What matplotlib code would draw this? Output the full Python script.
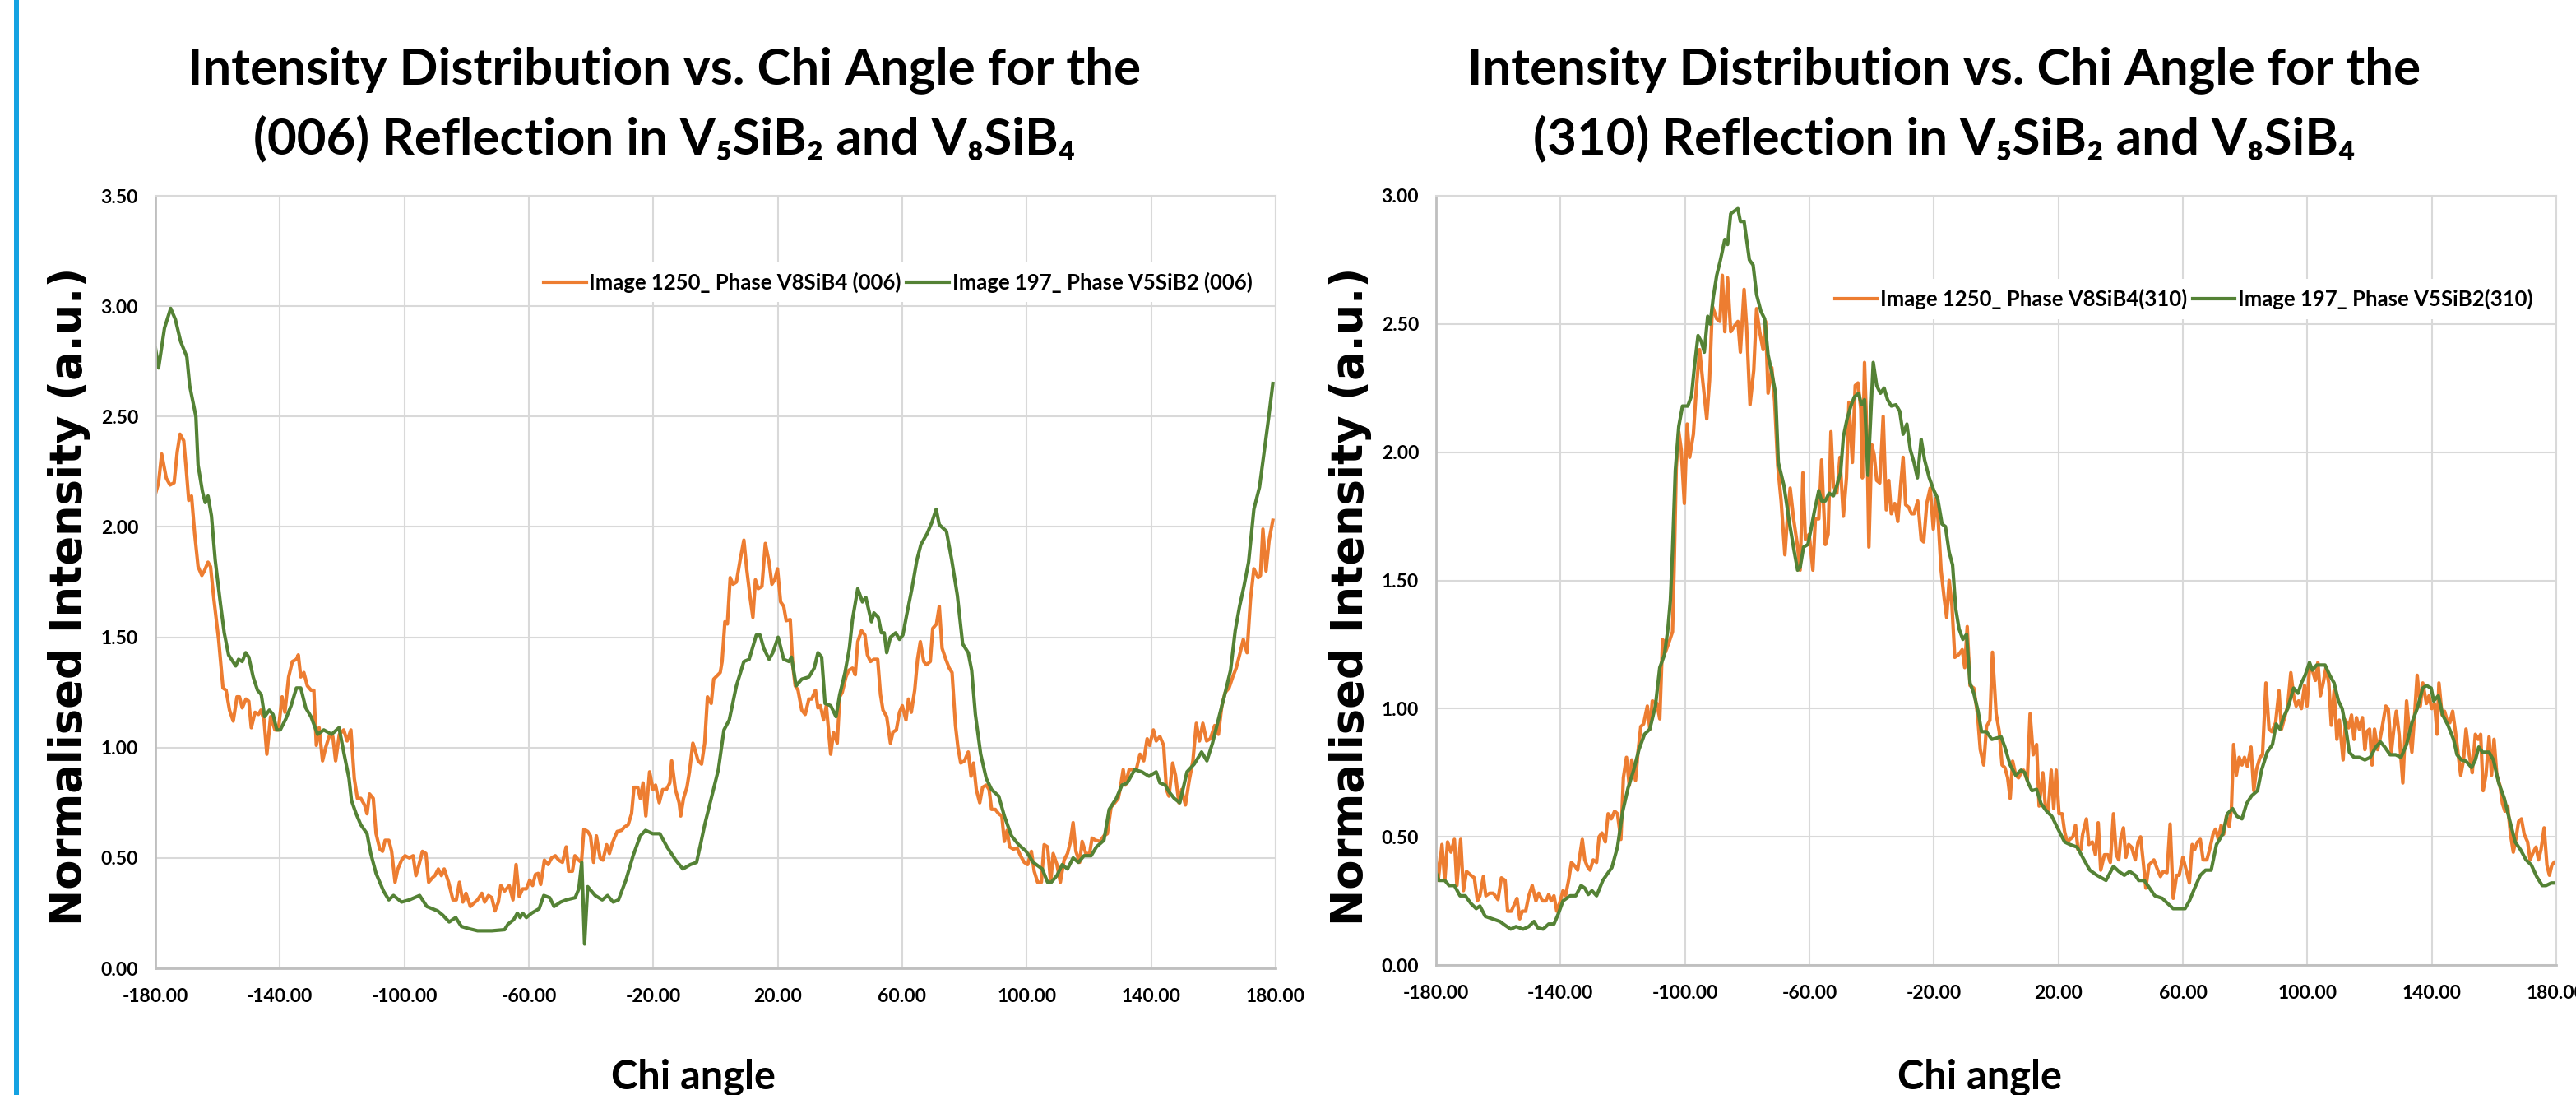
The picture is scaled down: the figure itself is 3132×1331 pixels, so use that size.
import numpy as np
import matplotlib
matplotlib.use("Agg")
import matplotlib.pyplot as plt
from matplotlib.patches import Rectangle
from matplotlib.ticker import FormatStrFormatter


# -------------------------------------------------
# DATA  (chi angle, normalised intensity)
# -------------------------------------------------
# (006) reflection, Image 1250 / V8SiB4
L_ORANGE = [
    (-180, 2.15), (-179, 2.20), (-178, 2.33), (-176.5, 2.22), (-175.3, 2.19), (-174, 2.20), (-173, 2.34),
    (-172.1, 2.42), (-170.9, 2.39), (-170.1, 2.26), (-169.3, 2.12), (-168.4, 2.14), (-167.4, 1.97),
    (-166.3, 1.82), (-165.1, 1.78), (-164.3, 1.80), (-163.1, 1.84), (-162.3, 1.82), (-161.2, 1.67),
    (-159.7, 1.49), (-158.3, 1.27), (-157.3, 1.26), (-156.2, 1.17), (-155, 1.12), (-153.8, 1.23),
    (-153, 1.23), (-152.1, 1.18), (-150.9, 1.22), (-150, 1.21), (-149.2, 1.09), (-148, 1.16),
    (-146.9, 1.15), (-146.1, 1.17), (-145.1, 1.125), (-144.2, 0.97), (-143, 1.14), (-141.6, 1.08),
    (-140.5, 1.08), (-139.3, 1.23), (-138.4, 1.16), (-137.2, 1.32), (-136, 1.39), (-134.7, 1.40),
    (-134.1, 1.42), (-133.3, 1.32), (-132.3, 1.34), (-131.2, 1.28), (-130, 1.26), (-129.1, 1.26),
    (-128.3, 1.01), (-127.4, 1.09), (-126.3, 0.94), (-125.3, 1.00), (-124.2, 1.05), (-123, 1.05),
    (-122.1, 0.94), (-120.9, 1.06), (-119.5, 1.08), (-118.4, 1.03), (-117.2, 1.08), (-116.1, 0.86),
    (-115.1, 0.77), (-114, 0.77), (-112.8, 0.74), (-112, 0.70), (-111.2, 0.79), (-110, 0.77),
    (-109.1, 0.61), (-107.9, 0.54), (-107, 0.53), (-106.2, 0.58), (-105, 0.58), (-104.1, 0.53),
    (-103, 0.39), (-102.1, 0.45), (-100.9, 0.49), (-99.8, 0.51), (-98.4, 0.50), (-97.2, 0.51),
    (-96.3, 0.42), (-95.3, 0.47), (-94.2, 0.53), (-93.1, 0.52), (-92.2, 0.39), (-91, 0.41),
    (-90.2, 0.42), (-89.1, 0.45), (-88.1, 0.42), (-87.2, 0.45), (-85.8, 0.39), (-84.4, 0.31),
    (-83.3, 0.31), (-82.3, 0.39), (-81.2, 0.30), (-80.2, 0.34), (-78.8, 0.28), (-77.7, 0.295),
    (-76.5, 0.31), (-75.1, 0.34), (-74.2, 0.30), (-73, 0.33), (-71.9, 0.32), (-70.9, 0.26),
    (-69.8, 0.30), (-69, 0.375), (-67.8, 0.35), (-66.3, 0.375), (-65.1, 0.31), (-64.1, 0.47),
    (-63.1, 0.325), (-62, 0.36), (-60.8, 0.36), (-59.7, 0.40), (-58.8, 0.375), (-57.9, 0.425),
    (-57, 0.43), (-56.2, 0.38), (-55, 0.49), (-53.8, 0.47), (-52.7, 0.50), (-51.5, 0.51),
    (-50.4, 0.49), (-49.2, 0.48), (-48, 0.55), (-47.2, 0.44), (-46, 0.44), (-45.2, 0.51),
    (-44, 0.49), (-43.1, 0.48), (-42.3, 0.63), (-41.1, 0.62), (-40.2, 0.60), (-39.2, 0.48),
    (-38.3, 0.60), (-37.1, 0.50), (-36.2, 0.49), (-35, 0.56), (-34.1, 0.52), (-33.1, 0.57),
    (-31.6, 0.62), (-30.2, 0.625), (-29.3, 0.64), (-28.1, 0.65), (-27, 0.70), (-26.2, 0.82),
    (-25, 0.82), (-24.2, 0.77), (-23.3, 0.84), (-22.4, 0.69), (-21.2, 0.89), (-20.1, 0.81),
    (-19.3, 0.83), (-18.1, 0.75), (-17, 0.81), (-15.8, 0.81), (-14.7, 0.84), (-14.1, 0.94),
    (-12.9, 0.81), (-11.7, 0.75), (-11.2, 0.69), (-10.3, 0.77), (-9.2, 0.82), (-8.4, 0.89),
    (-7.3, 1.02), (-6.6, 0.99), (-5.6, 0.94), (-4.5, 0.925), (-3.5, 1.02), (-2.6, 1.23),
    (-1.4, 1.20), (-0.6, 1.31), (1.5, 1.34), (2.1, 1.39), (3, 1.57), (3.8, 1.56), (4.7, 1.77),
    (5.6, 1.74), (6.7, 1.75), (7.9, 1.85), (9.1, 1.94), (10, 1.81), (11.2, 1.67), (12, 1.59),
    (12.8, 1.76), (13.7, 1.72), (14.9, 1.73), (16, 1.925), (17.2, 1.84), (18.1, 1.74), (19, 1.76),
    (19.9, 1.81), (20.9, 1.66), (21.9, 1.64), (22.7, 1.575), (24, 1.58), (24.8, 1.375), (25.6, 1.28),
    (26.5, 1.26), (27.7, 1.17), (28.8, 1.15), (30, 1.22), (30.9, 1.22), (32.1, 1.26), (32.9, 1.18),
    (33.7, 1.19), (34.7, 1.125), (35.6, 1.19), (37, 0.97), (37.9, 1.07), (39.1, 1.02), (39.9, 1.23),
    (40.7, 1.25), (41.9, 1.32), (42.8, 1.35), (44, 1.36), (44.9, 1.33), (45.7, 1.48), (46.9, 1.53),
    (48, 1.51), (48.8, 1.42), (49.8, 1.39), (50.9, 1.40), (52.1, 1.40), (53, 1.24), (53.8, 1.17),
    (55, 1.14), (56.2, 1.02), (57, 1.07), (58.1, 1.08), (59.1, 1.16), (60, 1.19), (61.2, 1.125),
    (62, 1.22), (62.9, 1.16), (64, 1.26), (64.9, 1.40), (65.8, 1.48), (66.9, 1.39), (67.8, 1.375),
    (69, 1.39), (69.8, 1.54), (71, 1.56), (71.9, 1.64), (72.8, 1.45), (74, 1.40), (75.1, 1.36),
    (76, 1.34), (77.1, 1.10), (77.9, 1.00), (78.8, 0.93), (80, 0.94), (81.2, 0.98), (82.1, 0.87),
    (82.9, 0.93), (83.8, 0.81), (84.9, 0.75), (85.8, 0.82), (87, 0.83), (87.9, 0.81), (88.7, 0.72),
    (89.9, 0.72), (91, 0.70), (92, 0.69), (92.8, 0.575), (93.7, 0.625), (94.5, 0.55), (95.7, 0.54),
    (96.9, 0.545), (98, 0.51), (99.2, 0.48), (100.3, 0.47), (101.5, 0.53), (102.4, 0.44),
    (103.5, 0.39), (104.7, 0.39), (105.6, 0.56), (106.7, 0.55), (107.7, 0.39), (108.5, 0.52),
    (109.7, 0.47), (110.8, 0.39), (112, 0.49), (113.1, 0.52), (114, 0.57), (114.9, 0.66),
    (115.8, 0.53), (117, 0.48), (117.8, 0.575), (119, 0.52), (120.2, 0.52), (121, 0.59),
    (122.1, 0.58), (123.6, 0.575), (124.8, 0.60), (125.9, 0.61), (127.1, 0.73), (128.3, 0.75),
    (129.4, 0.77), (130, 0.81), (131, 0.90), (131.7, 0.83), (132.9, 0.90), (134.1, 0.90),
    (135.2, 0.90), (136.4, 0.97), (137.6, 0.94), (138.7, 1.04), (139.5, 1.01), (140.7, 1.08),
    (141.6, 1.03), (142.8, 1.05), (144, 1.01), (144.9, 0.81), (145.7, 0.78), (146.9, 0.93),
    (147.8, 0.875), (148.9, 0.75), (149.8, 0.81), (151, 0.74), (152.2, 0.85), (153.4, 0.94),
    (154.5, 1.11), (155.5, 1.03), (156.6, 1.11), (157.8, 1.03), (159, 1.04), (160.4, 1.10),
    (161.6, 1.06), (162.7, 1.19), (163.8, 1.25), (165, 1.27), (166.2, 1.32), (167.3, 1.36),
    (168.4, 1.42), (169.6, 1.49), (170.8, 1.43), (171.9, 1.67), (173, 1.81), (174.4, 1.77),
    (175.1, 1.78), (175.9, 1.99), (176.9, 1.80), (177.9, 1.94), (179.1, 2.03),
]

# (006) reflection, Image 197 / V5SiB2
L_GREEN = [
    (-180, 2.81), (-179, 2.72), (-177.1, 2.90), (-175.1, 2.99), (-173.6, 2.94), (-171.9, 2.84),
    (-169.9, 2.77), (-169, 2.64), (-167, 2.50), (-166.3, 2.28), (-164.9, 2.16), (-164, 2.11),
    (-163.1, 2.14), (-162, 2.05), (-160.8, 1.85), (-159.1, 1.65), (-157.9, 1.52), (-156.5, 1.42),
    (-154.2, 1.37), (-153.3, 1.40), (-152.1, 1.39), (-151, 1.43), (-150, 1.41), (-148.6, 1.32),
    (-147.2, 1.26), (-146, 1.24), (-144.9, 1.14), (-143.4, 1.17), (-142.2, 1.15), (-141, 1.08),
    (-139.9, 1.08), (-138.1, 1.13), (-136.4, 1.19), (-134.7, 1.27), (-133.3, 1.27), (-131.7, 1.18),
    (-130, 1.14), (-127.9, 1.06), (-125.9, 1.08), (-123.4, 1.06), (-121, 1.09), (-119.5, 0.98),
    (-117.8, 0.86), (-117, 0.76), (-115.5, 0.70), (-114, 0.65), (-112, 0.61), (-110.8, 0.52),
    (-109.1, 0.43), (-106.7, 0.35), (-105, 0.31), (-103.5, 0.33), (-100.9, 0.30), (-98.4, 0.31),
    (-95.1, 0.33), (-92.8, 0.28), (-89.3, 0.26), (-87.6, 0.24), (-85.6, 0.21), (-83.5, 0.23),
    (-81.7, 0.19), (-79.4, 0.18), (-76.5, 0.17), (-71.9, 0.17), (-67.8, 0.175), (-66.7, 0.20),
    (-64.9, 0.22), (-63.7, 0.25), (-62.8, 0.23), (-62, 0.25), (-60.8, 0.23), (-59.1, 0.25),
    (-56.7, 0.27), (-55.2, 0.33), (-53.3, 0.32), (-51.9, 0.28), (-49.8, 0.30), (-48, 0.31),
    (-45.1, 0.32), (-43.95, 0.36), (-43, 0.48), (-42.1, 0.11), (-41.1, 0.37), (-38.7, 0.33),
    (-36.4, 0.31), (-34.7, 0.33), (-32.9, 0.30), (-31.2, 0.31), (-28.8, 0.40), (-26.5, 0.51),
    (-24.2, 0.60), (-22.5, 0.625), (-20.2, 0.61), (-17.9, 0.61), (-15.6, 0.55), (-12.8, 0.49),
    (-10.5, 0.45), (-8.1, 0.47), (-6.1, 0.48), (-4.7, 0.57), (-3.5, 0.65), (-1.2, 0.78),
    (0.9, 0.90), (2.7, 1.08), (4.4, 1.125), (6.7, 1.28), (9.1, 1.39), (10.8, 1.40), (13.1, 1.51),
    (14.3, 1.51), (15.5, 1.45), (17.2, 1.40), (18.4, 1.43), (20.1, 1.50), (21.9, 1.40), (23.6, 1.39),
    (24.4, 1.41), (25.9, 1.28), (27.7, 1.31), (30, 1.32), (31.7, 1.36), (32.9, 1.43), (34.1, 1.41),
    (35.2, 1.20), (37, 1.19), (38.7, 1.14), (39.9, 1.24), (41.6, 1.34), (43, 1.45), (44, 1.58),
    (45.7, 1.72), (47.2, 1.66), (48.3, 1.68), (50.1, 1.57), (50.9, 1.61), (52.3, 1.59), (53.3, 1.52),
    (54.2, 1.52), (55, 1.43), (56.2, 1.50), (57.9, 1.52), (59.1, 1.49), (60.2, 1.51), (61.4, 1.60),
    (63.1, 1.72), (64.7, 1.85), (66, 1.92), (68, 1.97), (69.5, 2.02), (70.9, 2.08), (71.9, 2.01),
    (74.2, 1.98), (75.9, 1.85), (77.7, 1.69), (79.4, 1.47), (81.2, 1.43), (82.3, 1.35), (83.5, 1.15),
    (85.2, 0.97), (87, 0.86), (88.7, 0.81), (91, 0.78), (92.8, 0.69), (95.1, 0.60), (97.4, 0.56),
    (99.8, 0.53), (102.1, 0.48), (105, 0.45), (106.7, 0.39), (107.9, 0.39), (109.7, 0.42),
    (111.4, 0.47), (113.1, 0.45), (114.9, 0.50), (116.6, 0.48), (118.4, 0.51), (120.7, 0.51),
    (122.4, 0.55), (124.8, 0.58), (126.5, 0.72), (128.8, 0.77), (130.6, 0.83), (132.3, 0.84),
    (134.7, 0.90), (137, 0.89), (139.3, 0.87), (141.6, 0.89), (142.8, 0.84), (144.5, 0.83),
    (145.7, 0.80), (147.4, 0.77), (149.2, 0.75), (151.5, 0.89), (153.8, 0.925), (156.2, 0.98),
    (157.9, 0.94), (159.7, 1.02), (162, 1.15), (163.8, 1.25), (165.5, 1.35), (167, 1.53),
    (168.4, 1.64), (169.8, 1.73), (171.3, 1.84), (173, 2.08), (174.8, 2.18), (176.5, 2.36),
    (177.7, 2.49), (179.1, 2.65),
]

# (310) reflection, Image 1250 / V8SiB4
R_ORANGE = [
    (-180, 0.42), (-179.3, 0.33), (-178.1, 0.47), (-177.2, 0.33), (-176.3, 0.48), (-175.2, 0.44),
    (-174.1, 0.49), (-173.3, 0.31), (-172.1, 0.49), (-171.2, 0.29), (-170.2, 0.365), (-168.8, 0.35),
    (-167.7, 0.34), (-166.7, 0.25), (-165.9, 0.27), (-164.8, 0.345), (-164, 0.27), (-162.8, 0.28),
    (-161.6, 0.28), (-160.1, 0.255), (-159, 0.34), (-157.8, 0.33), (-157, 0.21), (-155.8, 0.21),
    (-154.7, 0.24), (-154, 0.26), (-153.1, 0.18), (-152.3, 0.21), (-151.2, 0.21), (-150.2, 0.27),
    (-149.1, 0.31), (-147.9, 0.25), (-147, 0.28), (-145.8, 0.25), (-144.7, 0.25), (-143.8, 0.275),
    (-143, 0.25), (-142.1, 0.27), (-141.2, 0.21), (-140.3, 0.24), (-139.2, 0.29), (-138.4, 0.27),
    (-137.4, 0.33), (-136.5, 0.40), (-135.3, 0.385), (-134.5, 0.37), (-133, 0.49), (-132.2, 0.41),
    (-131.4, 0.385), (-130.5, 0.37), (-129.5, 0.41), (-128.4, 0.40), (-127.6, 0.50), (-126.7, 0.515),
    (-125.6, 0.48), (-124.7, 0.59), (-123.7, 0.57), (-122.6, 0.60), (-121.7, 0.59), (-120.6, 0.49),
    (-119.8, 0.73), (-118.8, 0.81), (-117.9, 0.70), (-117.1, 0.80), (-115.9, 0.72), (-115.1, 0.83),
    (-114.2, 0.93), (-113.3, 0.94), (-112.1, 1.01), (-111.3, 0.92), (-110.5, 1.03), (-109, 1.02),
    (-108.1, 0.96), (-107.2, 1.27), (-106.3, 1.22), (-105.1, 1.26), (-104, 1.30), (-103.5, 1.54),
    (-102.8, 1.94), (-102, 2.08), (-101.2, 2.01), (-100.2, 1.80), (-99.3, 2.11), (-98.5, 1.98),
    (-97.3, 2.07), (-96.4, 2.24), (-95.3, 2.40), (-94.4, 2.29), (-93, 2.13), (-92.1, 2.28),
    (-91.2, 2.57), (-89.8, 2.52), (-88.8, 2.51), (-88, 2.69), (-87.2, 2.47), (-86.3, 2.68),
    (-85.3, 2.47), (-84.2, 2.49), (-83, 2.51), (-82.2, 2.39), (-81, 2.635), (-80.2, 2.49),
    (-79.1, 2.185), (-77.9, 2.32), (-77, 2.56), (-76, 2.47), (-74.9, 2.40), (-74.1, 2.51),
    (-73.3, 2.23), (-72.1, 2.33), (-71.2, 2.20), (-70.2, 1.95), (-69.1, 1.81), (-67.9, 1.60),
    (-67.1, 1.74), (-66.2, 1.86), (-65.1, 1.74), (-63.9, 1.64), (-63, 1.54), (-62.1, 1.92),
    (-61.3, 1.66), (-60.1, 1.68), (-58.9, 1.54), (-58.1, 1.74), (-57, 1.74), (-56.1, 1.97),
    (-54.9, 1.64), (-54, 1.68), (-53.1, 2.08), (-52.3, 1.87), (-51.2, 1.84), (-50.2, 1.98),
    (-49.1, 1.75), (-48.1, 1.90), (-47.3, 2.195), (-46.2, 1.96), (-45.3, 2.26), (-44.4, 2.27),
    (-43.5, 2.17), (-43, 1.90), (-42.3, 2.35), (-41.5, 2.05), (-40.9, 1.63), (-40, 2.03),
    (-39.2, 1.99), (-38.4, 1.89), (-37.4, 1.88), (-36.3, 2.14), (-35.3, 1.775), (-34.5, 1.89),
    (-33.7, 1.76), (-32.6, 1.80), (-31.6, 1.73), (-30.7, 1.87), (-29.9, 1.98), (-29.1, 1.795),
    (-28.1, 1.785), (-27.2, 1.76), (-26.4, 1.76), (-25.2, 1.81), (-24.1, 1.66), (-23.3, 1.65),
    (-22.3, 1.80), (-21.2, 1.86), (-20.2, 1.70), (-19.4, 1.82), (-18.6, 1.73), (-17.7, 1.54),
    (-16.7, 1.43), (-15.9, 1.355), (-15.1, 1.50), (-14.2, 1.40), (-13.3, 1.20), (-12.1, 1.21),
    (-10.9, 1.23), (-10.1, 1.16), (-9.3, 1.32), (-8.4, 1.09), (-7.2, 1.08), (-6, 0.98),
    (-5.1, 0.84), (-4, 0.78), (-3.1, 0.93), (-2, 0.955), (-1.2, 1.22), (0, 0.98),
    (1, 0.91), (1.9, 0.78), (2.8, 0.77), (3.7, 0.73), (4.5, 0.65), (5.3, 0.795), (6.3, 0.74),
    (7.2, 0.73), (8, 0.75), (8.8, 0.76), (10, 0.72), (10.9, 0.98), (11.9, 0.82), (13, 0.86),
    (13.8, 0.62), (15, 0.75), (15.8, 0.62), (16.7, 0.60), (17.7, 0.76), (18.5, 0.61), (19.3, 0.76),
    (20.2, 0.59), (21.2, 0.59), (22, 0.52), (22.8, 0.48), (23.7, 0.49), (24.7, 0.50), (25.5, 0.545),
    (26.3, 0.45), (27.2, 0.45), (27.8, 0.51), (29, 0.57), (29.8, 0.47), (30.9, 0.48), (31.9, 0.43),
    (32.8, 0.555), (33.6, 0.37), (34.8, 0.43), (35.9, 0.43), (36.7, 0.40), (37.7, 0.59), (38.6, 0.43),
    (39.4, 0.41), (40, 0.49), (40.9, 0.535), (41.7, 0.42), (42.6, 0.47), (43.5, 0.46), (44.7, 0.41),
    (45.6, 0.48), (46.4, 0.50), (47.2, 0.41), (48.1, 0.30), (49.1, 0.39), (49.9, 0.40), (50.7, 0.41),
    (51.6, 0.38), (52.8, 0.345), (53.7, 0.365), (54.9, 0.36), (55.9, 0.55), (56.9, 0.26), (58, 0.35),
    (58.8, 0.35), (60, 0.42), (61.2, 0.365), (62.1, 0.32), (63, 0.47), (63.8, 0.45), (64.7, 0.48),
    (65.6, 0.49), (66.5, 0.41), (67.7, 0.41), (68.6, 0.45), (69.7, 0.51), (70.5, 0.53), (71.4, 0.49),
    (72.3, 0.545), (73.1, 0.51), (74, 0.58), (74.9, 0.54), (75.6, 0.61), (76.3, 0.86), (77.2, 0.74),
    (78.1, 0.81), (79, 0.78), (79.8, 0.81), (80.7, 0.775), (81.9, 0.85), (82.8, 0.68), (83.6, 0.76),
    (84.8, 0.81), (85.6, 0.82), (86.7, 1.10), (87.7, 0.92), (88.6, 0.91), (89.8, 0.945), (90.9, 1.07),
    (91.7, 0.92), (92.9, 0.975), (93.7, 1.01), (94.7, 1.14), (95.6, 1.05), (96.4, 1.01), (97.2, 1.03),
    (98.1, 1.00), (99.1, 1.09), (99.9, 1.01), (100.7, 1.16), (101.6, 1.15), (102.6, 1.11),
    (103.4, 1.18), (104.2, 1.05), (105.1, 1.10), (106, 1.16), (106.9, 1.10), (107.7, 0.935),
    (108.6, 1.07), (109.5, 0.88), (110.3, 0.955), (111.5, 0.80), (112.3, 0.955), (113.3, 0.925),
    (114.2, 0.975), (115, 0.88), (115.8, 0.965), (116.7, 0.92), (117.7, 0.965), (118.5, 0.84),
    (119.1, 0.91), (120, 0.92), (120.8, 0.78), (121.6, 0.92), (122.6, 0.84), (123.5, 0.89),
    (124.3, 0.945), (125.2, 1.01), (126, 1.00), (127, 0.83), (127.8, 0.92), (128.6, 0.99),
    (129.5, 0.90), (130.7, 0.71), (131.9, 1.03), (132.8, 0.91), (133.6, 0.83), (134.5, 0.98),
    (135.3, 1.13), (136.3, 1.01), (137.1, 1.10), (138.3, 1.02), (139.1, 1.05), (140, 1.00),
    (140.9, 1.02), (141.7, 0.90), (142.3, 1.10), (143.3, 0.975), (144.1, 0.99), (144.9, 0.955),
    (145.8, 0.945), (146.7, 0.99), (147.6, 0.91), (148.4, 0.83), (149.3, 0.74), (150.2, 0.80),
    (151, 0.92), (151.9, 0.83), (153, 0.75), (154, 0.90), (154.9, 0.88), (155.7, 0.90),
    (156.5, 0.68), (157.4, 0.74), (158.4, 0.89), (159.2, 0.74), (160, 0.88), (160.9, 0.74),
    (161.9, 0.70), (162.7, 0.63), (163.5, 0.60), (164.4, 0.62), (165.3, 0.51), (166.2, 0.44),
    (167, 0.49), (167.9, 0.56), (168.8, 0.57), (169.7, 0.51), (170.8, 0.48), (171.6, 0.41),
    (172.6, 0.44), (173.5, 0.46), (174.3, 0.41), (175.1, 0.45), (176.1, 0.535), (177, 0.39),
    (177.8, 0.35), (178.6, 0.39), (179.3, 0.40),
]

# (310) reflection, Image 197 / V5SiB2
R_GREEN = [
    (-180, 0.36), (-179.1, 0.33), (-177.2, 0.33), (-175.8, 0.31), (-174.1, 0.31), (-172.3, 0.27),
    (-170.6, 0.27), (-168.8, 0.24), (-167.1, 0.22), (-165.9, 0.23), (-164.2, 0.19), (-161.9, 0.18),
    (-159.5, 0.17), (-157.8, 0.155), (-156, 0.14), (-154.3, 0.15), (-152, 0.14), (-150.2, 0.15),
    (-148.5, 0.17), (-147.3, 0.145), (-145.6, 0.14), (-143.8, 0.16), (-142.1, 0.16), (-140.7, 0.20),
    (-139.2, 0.25), (-136.9, 0.27), (-135.1, 0.27), (-133.4, 0.31), (-132.2, 0.30), (-131.1, 0.275),
    (-129.9, 0.29), (-128.4, 0.27), (-126.4, 0.33), (-124.7, 0.36), (-123.5, 0.38), (-121.7, 0.46),
    (-120, 0.60), (-118.3, 0.69), (-116.5, 0.76), (-114.8, 0.84), (-113, 0.90), (-111.3, 0.92),
    (-109.5, 1.01), (-108.1, 1.16), (-106.6, 1.21), (-105.5, 1.31), (-104.7, 1.42), (-104, 1.62),
    (-103.1, 1.93), (-102, 2.10), (-100.8, 2.18), (-99.1, 2.18), (-97.9, 2.22), (-97, 2.33),
    (-95.8, 2.455), (-94.7, 2.43), (-93.8, 2.39), (-92.7, 2.53), (-91.9, 2.50), (-90.9, 2.605),
    (-89.8, 2.69), (-88.6, 2.75), (-87.2, 2.83), (-86.3, 2.81), (-85.3, 2.93), (-84.2, 2.94),
    (-83, 2.95), (-82.2, 2.90), (-81, 2.90), (-79.3, 2.75), (-78.1, 2.73), (-77, 2.615),
    (-75.6, 2.55), (-74.4, 2.52), (-73.3, 2.38), (-72.1, 2.31), (-70.9, 2.23), (-70, 1.96),
    (-68.2, 1.87), (-66.5, 1.73), (-65, 1.62), (-63.8, 1.54), (-63, 1.55), (-61.9, 1.63),
    (-60.5, 1.64), (-59.5, 1.70), (-58.4, 1.77), (-57, 1.85), (-56.1, 1.81), (-54.9, 1.81),
    (-53.7, 1.84), (-52.3, 1.83), (-51.2, 1.87), (-50, 1.92), (-49.1, 2.06), (-47.9, 2.13),
    (-46.7, 2.18), (-45.6, 2.215), (-44.2, 2.23), (-43.3, 2.185), (-42.3, 2.205), (-41.2, 1.91),
    (-40.3, 2.14), (-39.5, 2.35), (-38.4, 2.26), (-37.2, 2.23), (-36, 2.25), (-34.9, 2.205),
    (-33.7, 2.18), (-32.2, 2.185), (-31, 2.16), (-29.9, 2.07), (-28.7, 2.11), (-27.6, 2.01),
    (-26.4, 1.96), (-25.3, 1.90), (-24.1, 2.05), (-23, 1.97), (-21.5, 1.90), (-20, 1.85),
    (-18.8, 1.82), (-17.4, 1.72), (-16.3, 1.71), (-15.1, 1.61), (-14, 1.56), (-13, 1.39),
    (-11.9, 1.31), (-10.7, 1.27), (-9.5, 1.29), (-8.4, 1.10), (-7.2, 1.06), (-5.8, 0.99),
    (-4.7, 0.91), (-3.1, 0.91), (-1.4, 0.88), (1.6, 0.89), (2.8, 0.85), (4.5, 0.78), (6.3, 0.74),
    (8, 0.76), (9.2, 0.75), (10.3, 0.71), (11.5, 0.68), (13, 0.685), (14.4, 0.63), (16.2, 0.60),
    (17.9, 0.58), (19.7, 0.535), (22, 0.48), (23.7, 0.47), (26, 0.46), (27.8, 0.42), (30.1, 0.37),
    (32.4, 0.35), (35.3, 0.33), (37.7, 0.385), (39.4, 0.365), (41.2, 0.35), (42.9, 0.365),
    (44.7, 0.35), (45.8, 0.33), (47.6, 0.33), (49.3, 0.30), (51, 0.27), (53.4, 0.26), (55.1, 0.24),
    (56.9, 0.22), (58.6, 0.22), (60.7, 0.22), (62.1, 0.25), (63.8, 0.30), (65.6, 0.35), (67.3, 0.37),
    (69.1, 0.37), (70.8, 0.47), (72.8, 0.51), (74.3, 0.59), (76, 0.61), (77.4, 0.58), (79, 0.57),
    (80.5, 0.63), (82.1, 0.66), (84, 0.68), (85.3, 0.76), (87.1, 0.83), (88.8, 0.86), (90, 0.94),
    (91.2, 0.92), (92.3, 0.965), (93.7, 1.00), (95.6, 1.08), (97, 1.06), (98.1, 1.10), (99.3, 1.13),
    (100.7, 1.18), (101.6, 1.15), (103, 1.17), (104.5, 1.17), (105.7, 1.17), (107.2, 1.13),
    (108.6, 1.10), (110, 1.03), (111.2, 1.00), (112.3, 0.93), (113.5, 0.83), (115, 0.81),
    (116.7, 0.81), (118.5, 0.80), (120.2, 0.81), (122, 0.85), (123.5, 0.87), (124.9, 0.85),
    (126.6, 0.82), (128.4, 0.82), (130.1, 0.81), (131.9, 0.86), (133.6, 0.945), (135.3, 1.00),
    (137.1, 1.08), (138.3, 1.09), (139.8, 1.08), (140.6, 1.03), (142.1, 1.05), (143.5, 0.975),
    (145.2, 0.935), (147, 0.88), (148.1, 0.82), (149.5, 0.80), (151, 0.795), (152.8, 0.77),
    (154, 0.80), (155.1, 0.85), (156.3, 0.83), (158.4, 0.83), (159.8, 0.80), (161.5, 0.71),
    (163.3, 0.65), (164.7, 0.58), (166.8, 0.48), (168.5, 0.45), (170.3, 0.41), (172, 0.39),
    (173.7, 0.345), (175.5, 0.31), (176.7, 0.31), (178.4, 0.32), (179.3, 0.32),
]

X_TICKS = [-180, -140, -100, -60, -20, 20, 60, 100, 140, 180]
L_Y_TICKS = [0, 0.5, 1.0, 1.5, 2.0, 2.5, 3.0, 3.5]
R_Y_TICKS = [0, 0.5, 1.0, 1.5, 2.0, 2.5, 3.0]

L_TITLE = ["Intensity Distribution vs. Chi Angle for the",
           "(006) Reflection in V\u2085SiB\u2082 and V\u2088SiB\u2084"]
R_TITLE = ["Intensity Distribution vs. Chi Angle for the",
           "(310) Reflection in V\u2085SiB\u2082 and V\u2088SiB\u2084"]
L_LABELS = ["Image 1250_ Phase V8SiB4 (006)", "Image 197_ Phase V5SiB2 (006)"]
R_LABELS = ["Image 1250_ Phase V8SiB4(310)", "Image 197_ Phase V5SiB2(310)"]


# -------------------------------------------------
# STYLE
# -------------------------------------------------
ORANGE = "#ED7D31"
GREEN = "#548235"
GRID = "#D9D9D9"
AXIS = "#BFBFBF"

plt.rcParams["font.family"] = ["Lato", "DejaVu Sans"]
plt.rcParams["font.weight"] = "bold"

W, H = 3132, 1331
fig = plt.figure(figsize=(W / 100, H / 100), dpi=100)
fig.patch.set_facecolor("white")

# thin blue bar at the far left
fig.add_artist(Rectangle((17 / W, 0), 6 / W, 1, transform=fig.transFigure,
                         facecolor="#14A2E2", edgecolor="none"))


def px_box(x0, y0, x1, y1):
    return [x0 / W, 1 - y1 / H, (x1 - x0) / W, (y1 - y0) / H]


panels = [
    dict(box=px_box(189, 238, 1551, 1177), orange=L_ORANGE, green=L_GREEN, ymax=3.5,
         yticks=L_Y_TICKS, title=L_TITLE, title_x=808, labels=L_LABELS, leg_y=0.888,
         ylab_x=84, xlab_x=843),
    dict(box=px_box(1746, 238, 3108, 1173), orange=R_ORANGE, green=R_GREEN, ymax=3.0,
         yticks=R_Y_TICKS, title=R_TITLE, title_x=2364, labels=R_LABELS, leg_y=0.866,
         ylab_x=1642, xlab_x=2407),
]

for p in panels:
    ax = fig.add_axes(p["box"])
    ox, oy = np.array(p["orange"]).T
    gx, gy = np.array(p["green"]).T
    ax.plot(ox, oy, color=ORANGE, lw=3.0, label=p["labels"][0], solid_joinstyle="round")
    ax.plot(gx, gy, color=GREEN, lw=3.0, label=p["labels"][1], solid_joinstyle="round")

    ax.set_xlim(-180, 180)
    ax.set_ylim(0, p["ymax"])
    ax.set_xticks(X_TICKS)
    ax.set_yticks(p["yticks"])
    ax.xaxis.set_major_formatter(FormatStrFormatter("%.2f"))
    ax.yaxis.set_major_formatter(FormatStrFormatter("%.2f"))
    ax.tick_params(axis="both", length=0, labelsize=16.5)
    ax.tick_params(axis="x", pad=17)
    ax.tick_params(axis="y", pad=15)
    for lab in ax.get_xticklabels() + ax.get_yticklabels():
        lab.set_fontweight("bold")

    ax.grid(True, color=GRID, linewidth=1.5)
    ax.set_axisbelow(True)
    for side in ["top", "right"]:
        ax.spines[side].set_color(GRID)
        ax.spines[side].set_linewidth(1.5)
    for side in ["left", "bottom"]:
        ax.spines[side].set_color(AXIS)
        ax.spines[side].set_linewidth(2)

    leg = ax.legend(loc="center right", bbox_to_anchor=(0.997, p["leg_y"]), ncol=2,
                    fontsize=18.5, handlelength=2.0, handletextpad=0.15, columnspacing=0.25,
                    borderpad=0.45, frameon=True, fancybox=False, framealpha=1,
                    facecolor="white", edgecolor="none")
    for t in leg.get_texts():
        t.set_fontweight("bold")

    # two-line title, centred on the chart area
    fig.text(p["title_x"] / W, 1 - 102 / H, p["title"][0], ha="center", va="baseline",
             fontsize=44.5, fontweight="bold")
    fig.text(p["title_x"] / W, 1 - 187 / H, p["title"][1], ha="center", va="baseline",
             fontsize=44.5, fontweight="bold")

    fig.text(p["ylab_x"] / W, 1 - 725 / H, "Normalised Intensity (a.u.)", rotation=90,
             ha="center", va="center", fontsize=38, fontweight="bold", family="DejaVu Sans")
    fig.text(p["xlab_x"] / W, 1 - 1323 / H, "Chi angle", ha="center", va="baseline",
             fontsize=35, fontweight="bold")

fig.savefig("out.png", dpi=100, facecolor="white")
